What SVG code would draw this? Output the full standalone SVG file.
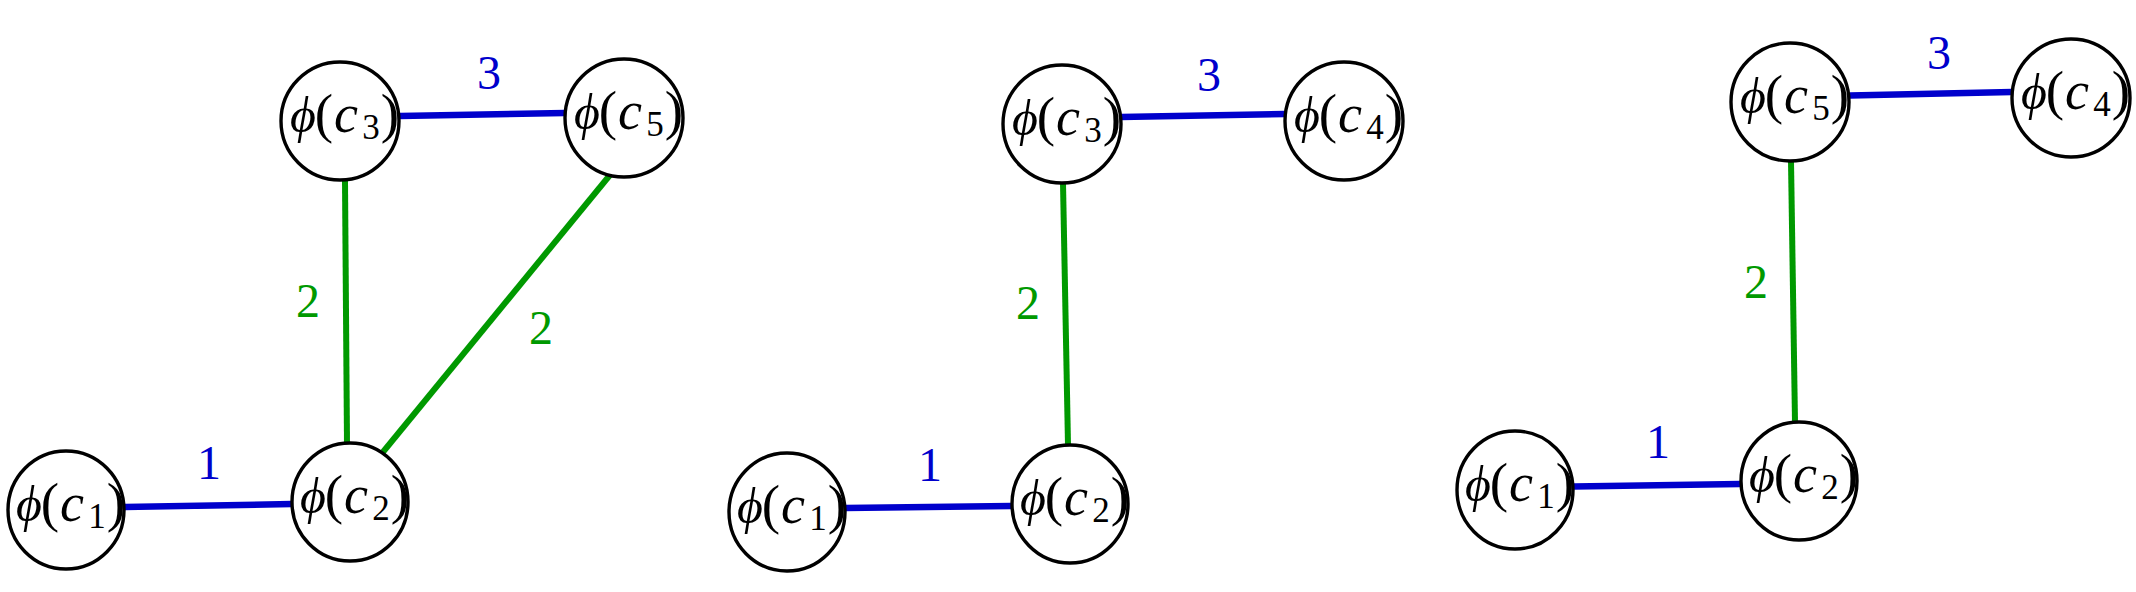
<svg xmlns="http://www.w3.org/2000/svg" width="2136" height="592" viewBox="0 0 2136 592">
<style>
.n{fill:#fff;stroke:#000;stroke-width:3.4}
.t{font-family:"Liberation Serif","DejaVu Serif",serif;font-size:46px;fill:#000;text-anchor:middle}
.f{font-style:italic;font-size:50px}
.p{font-size:55px}
.c{font-style:italic;font-size:54px}
.s{font-size:35px}
.b{stroke:#0000cc;stroke-width:6.5;fill:none}
.g{stroke:#009900;stroke-width:6;fill:none}
.lb{font-family:"Liberation Serif","DejaVu Serif",serif;font-size:48px;fill:#0000cc;text-anchor:middle}
.lg{font-family:"Liberation Serif","DejaVu Serif",serif;font-size:48px;fill:#009900;text-anchor:middle}
</style>
<rect width="2136" height="592" fill="#fff"/>
<g id="connectors">
<line class="b" x1="125" y1="507" x2="292" y2="504"/>
<line class="g" x1="345" y1="181" x2="347" y2="443"/>
<line class="g" x1="610" y1="175" x2="383" y2="452"/>
<line class="b" x1="400" y1="116" x2="565" y2="113"/>
<line class="b" x1="845" y1="508" x2="1011" y2="506"/>
<line class="g" x1="1063" y1="183" x2="1068" y2="445"/>
<line class="b" x1="1121" y1="117" x2="1285" y2="114"/>
<line class="b" x1="1574" y1="486.5" x2="1740" y2="484"/>
<line class="g" x1="1791" y1="161" x2="1795" y2="422"/>
<line class="b" x1="1850" y1="95.5" x2="2012" y2="92"/>
<text class="lb" x="489" y="89">3</text>
<text class="lg" x="308" y="317">2</text>
<text class="lg" x="541" y="344">2</text>
<text class="lb" x="209" y="479">1</text>
<text class="lb" x="1209" y="91">3</text>
<text class="lg" x="1028" y="319">2</text>
<text class="lb" x="930" y="481">1</text>
<text class="lb" x="1939" y="69">3</text>
<text class="lg" x="1756" y="298">2</text>
<text class="lb" x="1658" y="458">1</text>
</g>
<g id="p1-c1"><ellipse class="n" cx="66" cy="510" rx="58" ry="59"/><text class="t" y="521"><tspan class="f" x="29">ϕ</tspan><tspan class="p" x="50">(</tspan><tspan class="c" x="72">c</tspan><tspan class="s" x="97" dy="7">1</tspan><tspan class="p" x="116" dy="-7">)</tspan></text></g>
<g id="p1-c2"><ellipse class="n" cx="350" cy="502" rx="58" ry="59"/><text class="t" y="513"><tspan class="f" x="313">ϕ</tspan><tspan class="p" x="334">(</tspan><tspan class="c" x="356">c</tspan><tspan class="s" x="381" dy="7">2</tspan><tspan class="p" x="400" dy="-7">)</tspan></text></g>
<g id="p1-c3"><ellipse class="n" cx="340" cy="121" rx="59" ry="59"/><text class="t" y="132"><tspan class="f" x="303">ϕ</tspan><tspan class="p" x="324">(</tspan><tspan class="c" x="346">c</tspan><tspan class="s" x="371" dy="7">3</tspan><tspan class="p" x="390" dy="-7">)</tspan></text></g>
<g id="p1-c5"><ellipse class="n" cx="624" cy="118" rx="59" ry="59"/><text class="t" y="129"><tspan class="f" x="587">ϕ</tspan><tspan class="p" x="608">(</tspan><tspan class="c" x="630">c</tspan><tspan class="s" x="655" dy="7">5</tspan><tspan class="p" x="674" dy="-7">)</tspan></text></g>
<g id="p2-c1"><ellipse class="n" cx="787" cy="512" rx="58" ry="59"/><text class="t" y="523"><tspan class="f" x="750">ϕ</tspan><tspan class="p" x="771">(</tspan><tspan class="c" x="793">c</tspan><tspan class="s" x="818" dy="7">1</tspan><tspan class="p" x="837" dy="-7">)</tspan></text></g>
<g id="p2-c2"><ellipse class="n" cx="1070" cy="504" rx="58" ry="59"/><text class="t" y="515"><tspan class="f" x="1033">ϕ</tspan><tspan class="p" x="1054">(</tspan><tspan class="c" x="1076">c</tspan><tspan class="s" x="1101" dy="7">2</tspan><tspan class="p" x="1120" dy="-7">)</tspan></text></g>
<g id="p2-c3"><ellipse class="n" cx="1062" cy="124" rx="59" ry="59"/><text class="t" y="135"><tspan class="f" x="1025">ϕ</tspan><tspan class="p" x="1046">(</tspan><tspan class="c" x="1068">c</tspan><tspan class="s" x="1093" dy="7">3</tspan><tspan class="p" x="1112" dy="-7">)</tspan></text></g>
<g id="p2-c4"><ellipse class="n" cx="1344" cy="121" rx="59" ry="59"/><text class="t" y="132"><tspan class="f" x="1307">ϕ</tspan><tspan class="p" x="1328">(</tspan><tspan class="c" x="1350">c</tspan><tspan class="s" x="1375" dy="7">4</tspan><tspan class="p" x="1394" dy="-7">)</tspan></text></g>
<g id="p3-c1"><ellipse class="n" cx="1515" cy="490" rx="58" ry="59"/><text class="t" y="501"><tspan class="f" x="1478">ϕ</tspan><tspan class="p" x="1499">(</tspan><tspan class="c" x="1521">c</tspan><tspan class="s" x="1546" dy="7">1</tspan><tspan class="p" x="1565" dy="-7">)</tspan></text></g>
<g id="p3-c2"><ellipse class="n" cx="1799" cy="481" rx="58" ry="59"/><text class="t" y="492"><tspan class="f" x="1762">ϕ</tspan><tspan class="p" x="1783">(</tspan><tspan class="c" x="1805">c</tspan><tspan class="s" x="1830" dy="7">2</tspan><tspan class="p" x="1849" dy="-7">)</tspan></text></g>
<g id="p3-c5"><ellipse class="n" cx="1790" cy="102" rx="59" ry="59"/><text class="t" y="113"><tspan class="f" x="1753">ϕ</tspan><tspan class="p" x="1774">(</tspan><tspan class="c" x="1796">c</tspan><tspan class="s" x="1821" dy="7">5</tspan><tspan class="p" x="1840" dy="-7">)</tspan></text></g>
<g id="p3-c4"><ellipse class="n" cx="2071" cy="98" rx="59" ry="59"/><text class="t" y="109"><tspan class="f" x="2034">ϕ</tspan><tspan class="p" x="2055">(</tspan><tspan class="c" x="2077">c</tspan><tspan class="s" x="2102" dy="7">4</tspan><tspan class="p" x="2121" dy="-7">)</tspan></text></g>
</svg>
